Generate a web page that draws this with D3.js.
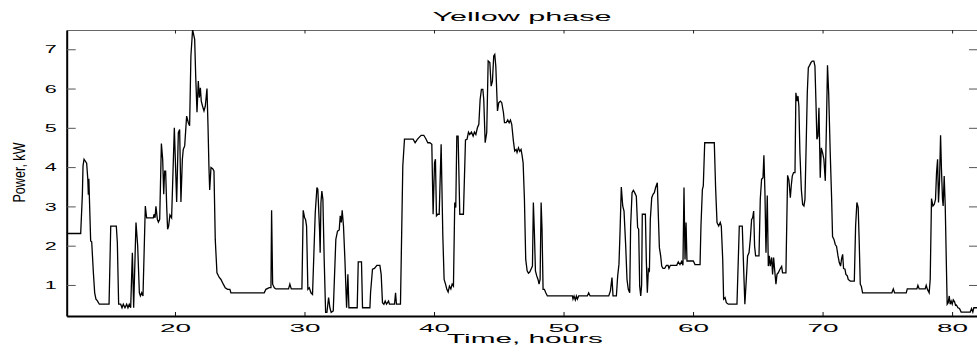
<!DOCTYPE html>
<html><head><meta charset="utf-8">
<script src="https://cdn.jsdelivr.net/npm/d3@7"></script>
<style>html,body{margin:0;padding:0;background:#fff;} svg{display:block;}</style>
</head><body>
<svg id="chart" width="977" height="354"></svg>
<script>
const chartTitle = "Yellow phase";
const xLabel = "Time, hours";
const yLabel = "Power, kW";
const xTicks = [20, 30, 40, 50, 60, 70, 80];
const yTicks = [1, 2, 3, 4, 5, 6, 7];
const xDomain = [11.64, 82.0];
const yDomain = [0.21, 7.49];

const hours = [
  11.64,12.72,12.85,12.9,12.98,13.18,13.27,13.31,13.35,13.49,13.57,13.7,13.8,13.9,14.0,14.16,
  14.91,15.04,15.47,15.55,15.65,15.81,15.91,16.01,16.14,16.27,16.37,16.47,16.58,16.71,16.81,16.99,17.12,17.25,17.33,17.43,17.53,
  17.71,17.81,18.33,18.38,18.46,18.53,18.64,18.72,18.82,18.95,19.05,19.13,19.2,19.28,19.36,19.43,19.51,19.61,19.74,
  19.95,20.13,20.26,20.36,20.46,20.57,20.64,20.75,20.9,21.03,21.13,21.23,21.36,21.52,21.6,21.7,21.8,21.88,21.96,22.03,22.13,22.24,22.34,22.47,22.55,22.62,22.68,22.78,22.91,23.01,23.11,23.24,23.42,
  23.55,23.73,23.88,24.06,24.24,24.32,26.89,27.02,27.28,27.41,27.46,27.54,27.67,27.79,28.77,28.87,28.98,29.8,29.9,30.01,30.08,30.16,30.26,30.37,30.5,30.62,
  30.83,30.96,31.03,31.16,31.21,31.27,31.34,31.42,31.52,31.63,31.73,31.86,31.96,32.06,32.22,32.42,32.55,32.68,32.76,32.84,32.91,33.01,33.12,33.25,33.35,33.43,34.07,34.15,34.4,34.48,35.05,
  35.1,35.25,35.4,35.59,35.82,35.92,36.02,36.13,36.23,36.33,36.49,36.56,36.95,37.03,37.1,37.41,
  37.59,37.72,38.39,38.54,38.7,38.83,39.01,39.21,39.39,39.52,39.68,39.83,39.93,40.04,40.11,40.19,40.29,40.4,40.55,40.68,40.78,40.89,40.99,41.09,41.19,41.3,41.4,41.5,
  41.6,41.68,41.76,41.86,41.99,42.27,42.43,42.55,42.66,42.76,42.89,43.02,43.12,43.23,43.35,43.46,43.56,43.66,43.77,43.84,43.95,44.07,
  44.18,44.31,44.41,44.51,44.61,44.69,44.77,44.9,45.0,45.13,45.23,45.36,45.44,45.57,45.69,45.8,45.9,46.0,46.13,46.23,46.34,46.41,46.52,46.62,46.72,46.8,46.88,
  46.98,47.08,47.19,47.29,47.39,47.49,47.6,47.67,47.75,47.83,47.93,48.03,48.11,48.19,48.27,48.34,48.42,48.52,48.63,48.75,
  50.68,50.73,50.81,50.91,50.99,51.07,51.17,51.84,51.94,52.05,53.49,53.62,53.74,53.82,54.08,54.18,54.28,54.36,54.46,54.57,54.67,54.8,54.9,55.0,55.11,
  55.18,55.29,55.39,55.49,55.62,55.72,55.8,55.88,55.96,56.03,56.08,56.32,56.39,56.47,56.55,56.63,56.7,56.81,56.91,57.01,57.11,57.24,57.32,57.4,57.5,57.58,57.68,57.81,57.94,58.07,58.14,58.25,
  58.74,58.86,58.99,59.12,59.22,59.3,59.38,59.46,59.53,60.02,60.15,60.54,60.61,60.72,60.79,60.9,61.64,61.74,61.85,61.98,62.1,62.18,62.29,62.36,62.47,62.57,62.72,
  63.39,63.57,63.8,63.9,64.0,64.11,64.21,64.32,64.42,64.52,64.6,64.68,64.75,64.83,65.09,65.19,65.29,65.4,65.47,65.55,65.63,65.73,65.81,65.89,65.96,66.07,66.14,66.22,66.32,66.4,66.48,66.58,66.71,66.84,66.91,67.17,
  67.3,67.4,67.51,67.58,67.66,67.76,67.87,67.94,68.02,68.1,68.17,68.25,68.36,68.46,68.56,68.64,68.72,68.82,68.9,69.0,69.1,69.2,69.33,69.41,69.49,69.56,69.64,69.72,69.77,69.82,69.9,70.0,70.1,70.21,
  70.3,70.38,70.47,70.59,70.7,70.77,70.88,70.98,71.08,71.19,71.29,71.39,71.47,71.55,71.62,71.73,71.8,71.91,71.98,72.14,72.45,72.55,72.65,72.75,72.83,72.91,72.99,73.09,
  75.35,75.46,75.56,76.46,76.54,77.28,77.36,77.46,77.92,78.0,78.08,78.23,78.31,78.41,78.52,78.62,78.72,78.8,78.88,78.95,79.03,79.11,79.18,79.26,79.31,79.39,79.47,79.55,
  79.62,79.7,79.78,79.85,79.93,80.01,80.09,80.19,80.27,80.34,80.45,80.57,80.7,81.4,81.5,81.6,81.68,81.99
];

const powerKW = [
  2.31,2.31,3.3,4.03,4.2,4.1,3.69,3.3,3.7,2.12,2.1,1.31,0.8,0.64,0.6,0.51,
  0.51,2.5,2.5,2.08,0.51,0.51,0.42,0.51,0.42,0.51,0.42,0.51,0.42,1.82,0.42,2.59,2.0,0.8,0.72,0.8,0.72,
  3.01,2.71,2.71,2.8,2.71,3.0,2.67,2.6,2.67,4.6,4.2,3.31,3.9,3.9,3.0,2.42,2.5,2.78,2.71,
  5.0,3.11,4.88,4.96,3.11,4.2,4.45,4.54,5.3,5.13,5.05,6.83,7.5,7.25,6.32,5.4,6.19,5.77,6.02,5.68,5.55,5.43,5.55,6.0,5.05,4.03,3.42,3.99,3.96,3.9,2.16,1.31,1.19,
  1.14,1.02,0.93,0.89,0.89,0.8,0.8,0.89,0.93,0.93,2.9,1.02,0.93,0.9,0.9,1.02,0.9,0.9,2.9,2.71,2.67,2.5,0.89,0.93,0.8,0.76,
  2.84,3.48,3.43,2.42,1.82,3.1,3.39,3.18,1.65,0.3,0.3,0.68,0.42,0.3,0.34,2.16,2.37,2.4,2.76,2.59,2.9,2.5,1.65,0.42,1.27,0.42,0.42,1.59,1.59,0.42,0.42,
  0.8,1.4,1.42,1.5,1.5,1.27,0.55,0.51,0.59,0.51,0.59,0.51,0.51,0.8,0.51,0.51,
  4.03,4.71,4.71,4.62,4.7,4.75,4.81,4.81,4.71,4.62,4.62,4.58,2.8,4.11,4.2,2.76,2.8,2.8,4.58,2.25,1.14,1.02,0.89,0.82,0.97,0.9,1.02,0.97,
  3.1,2.97,4.79,4.79,2.8,2.8,4.69,4.71,4.89,4.83,4.89,4.79,4.89,4.83,5.0,5.09,5.72,5.98,5.98,5.72,4.62,4.88,
  6.7,6.66,6.06,6.19,6.83,6.87,6.57,5.43,5.64,5.68,5.64,5.39,5.13,5.13,5.2,5.13,5.2,5.09,4.66,4.41,4.45,4.37,4.49,4.4,4.45,4.3,4.11,
  3.18,1.65,1.36,1.3,1.33,1.4,1.48,3.1,2.33,1.36,1.23,1.14,1.02,1.14,3.1,2.42,0.89,0.89,0.8,0.72,
  0.72,0.64,0.72,0.62,0.72,0.64,0.72,0.72,0.8,0.72,0.72,0.85,1.19,0.72,0.72,1.23,1.53,2.33,3.49,3.01,2.88,1.99,1.14,0.89,0.8,
  2.5,3.35,3.41,3.35,3.26,2.46,2.42,0.97,0.72,1.0,2.8,2.8,1.65,0.8,1.4,1.36,2.67,3.22,3.31,3.35,3.48,3.6,2.76,1.95,1.74,1.48,1.42,1.42,1.5,1.5,1.42,1.5,
  1.5,1.59,1.52,1.6,1.5,3.48,1.65,2.59,1.61,1.61,1.52,1.52,2.5,3.43,3.52,4.62,4.62,3.48,2.59,2.5,2.59,2.5,1.65,0.64,0.68,0.55,0.51,
  0.51,2.5,2.5,1.48,0.51,1.14,1.74,1.82,2.16,2.67,2.71,2.88,1.99,1.74,1.74,3.18,3.69,3.73,4.3,3.35,1.82,3.28,1.48,1.74,1.48,1.7,1.27,1.7,1.31,1.02,1.27,1.31,1.4,1.47,1.31,1.31,
  3.79,3.67,3.22,3.52,3.77,3.86,3.86,5.89,5.68,5.81,5.55,4.37,3.43,3.05,3.01,3.18,4.37,5.89,6.53,6.59,6.66,6.7,6.7,6.57,5.64,4.71,4.79,5.51,4.62,3.73,4.49,4.37,4.2,3.65,
  5.1,6.59,5.89,4.37,3.18,2.23,2.16,2.03,1.98,1.74,1.57,1.48,1.67,1.78,1.42,1.4,1.27,1.23,1.14,1.1,1.1,2.5,3.1,2.97,2.08,1.02,0.97,0.8,
  0.8,0.9,0.8,0.8,0.9,0.9,0.99,0.9,0.9,0.99,0.9,0.8,1.14,3.2,3.01,3.05,3.18,3.86,4.2,3.1,3.65,4.81,3.94,3.18,3.01,3.77,3.01,1.65,
  0.51,0.55,0.72,0.51,0.59,0.51,0.62,0.57,0.48,0.49,0.42,0.4,0.31,0.31,0.4,0.31,0.42,0.42
];

const frame = { left: 66.7, top: 30, right: 978, bottom: 316 };
const font = "'Liberation Sans', Arial, Helvetica, sans-serif";
const svg = d3.select("#chart");

const x = d3.scaleLinear().domain(xDomain).range([frame.left, frame.right]);
const y = d3.scaleLinear().domain(yDomain).range([frame.bottom, frame.top]);

svg.append("defs").append("clipPath").attr("id", "plotclip")
  .append("rect").attr("x", frame.left).attr("y", frame.top)
  .attr("width", frame.right - frame.left).attr("height", frame.bottom - frame.top);

// top axis (no labels)
const gTop = svg.append("g").attr("transform", `translate(0,${frame.top})`)
  .call(d3.axisTop(x).tickValues(xTicks).tickSize(-3.5).tickSizeOuter(0).tickFormat(""));
gTop.select(".domain").attr("stroke", "#666").attr("stroke-width", 1);
gTop.selectAll(".tick line").attr("stroke", "#222");

// right axis (no labels)
const gRight = svg.append("g").attr("transform", `translate(${frame.right},0)`)
  .call(d3.axisRight(y).tickValues(yTicks).tickSize(-9).tickSizeOuter(0).tickFormat(""));
gRight.selectAll(".tick line").attr("stroke", "#555");

// data line
const data = d3.zip(hours, powerKW);
svg.append("path").datum(data)
  .attr("clip-path", "url(#plotclip)")
  .attr("fill", "none").attr("stroke", "#000").attr("stroke-width", 1.3)
  .attr("d", d3.line().x(d => x(d[0])).y(d => y(d[1])));

// bottom axis
const gBottom = svg.append("g").attr("transform", `translate(0,${frame.bottom})`)
  .call(d3.axisBottom(x).tickValues(xTicks).tickSize(-4).tickSizeOuter(0).tickPadding(7.5));
gBottom.select(".domain").attr("stroke", "#000").attr("stroke-width", 2);
gBottom.selectAll(".tick line").attr("stroke", "#111");
gBottom.selectAll(".tick text")
  .attr("font-family", font).attr("font-size", 11.5).attr("fill", "#000")
  .attr("textLength", 31).attr("lengthAdjust", "spacingAndGlyphs");

// left axis
const gLeft = svg.append("g").attr("transform", `translate(${frame.left},0)`)
  .call(d3.axisLeft(y).tickValues(yTicks).tickSize(-9).tickSizeOuter(0).tickPadding(10));
gLeft.select(".domain").attr("stroke", "#000").attr("stroke-width", 2);
gLeft.selectAll(".tick line").attr("stroke", "#555");
gLeft.selectAll(".tick text")
  .attr("font-family", font).attr("font-size", 11.5).attr("fill", "#000")
  .attr("textLength", 12).attr("lengthAdjust", "spacingAndGlyphs");

// title
svg.append("text").attr("x", 522).attr("y", 20.7).attr("text-anchor", "middle")
  .attr("font-family", font).attr("font-size", 12.5).attr("fill", "#000")
  .attr("textLength", 179).attr("lengthAdjust", "spacingAndGlyphs")
  .text(chartTitle);

// x label
svg.append("text").attr("x", 525).attr("y", 343.3).attr("text-anchor", "middle")
  .attr("font-family", font).attr("font-size", 13.7).attr("fill", "#000")
  .attr("textLength", 156).attr("lengthAdjust", "spacingAndGlyphs")
  .text(xLabel);

// y label
svg.append("text").attr("transform", "translate(24.5,172.5) rotate(-90)")
  .attr("text-anchor", "middle")
  .attr("font-family", font).attr("font-size", 17).attr("fill", "#000")
  .attr("textLength", 60).attr("lengthAdjust", "spacingAndGlyphs")
  .text(yLabel);
</script>
</body></html>
